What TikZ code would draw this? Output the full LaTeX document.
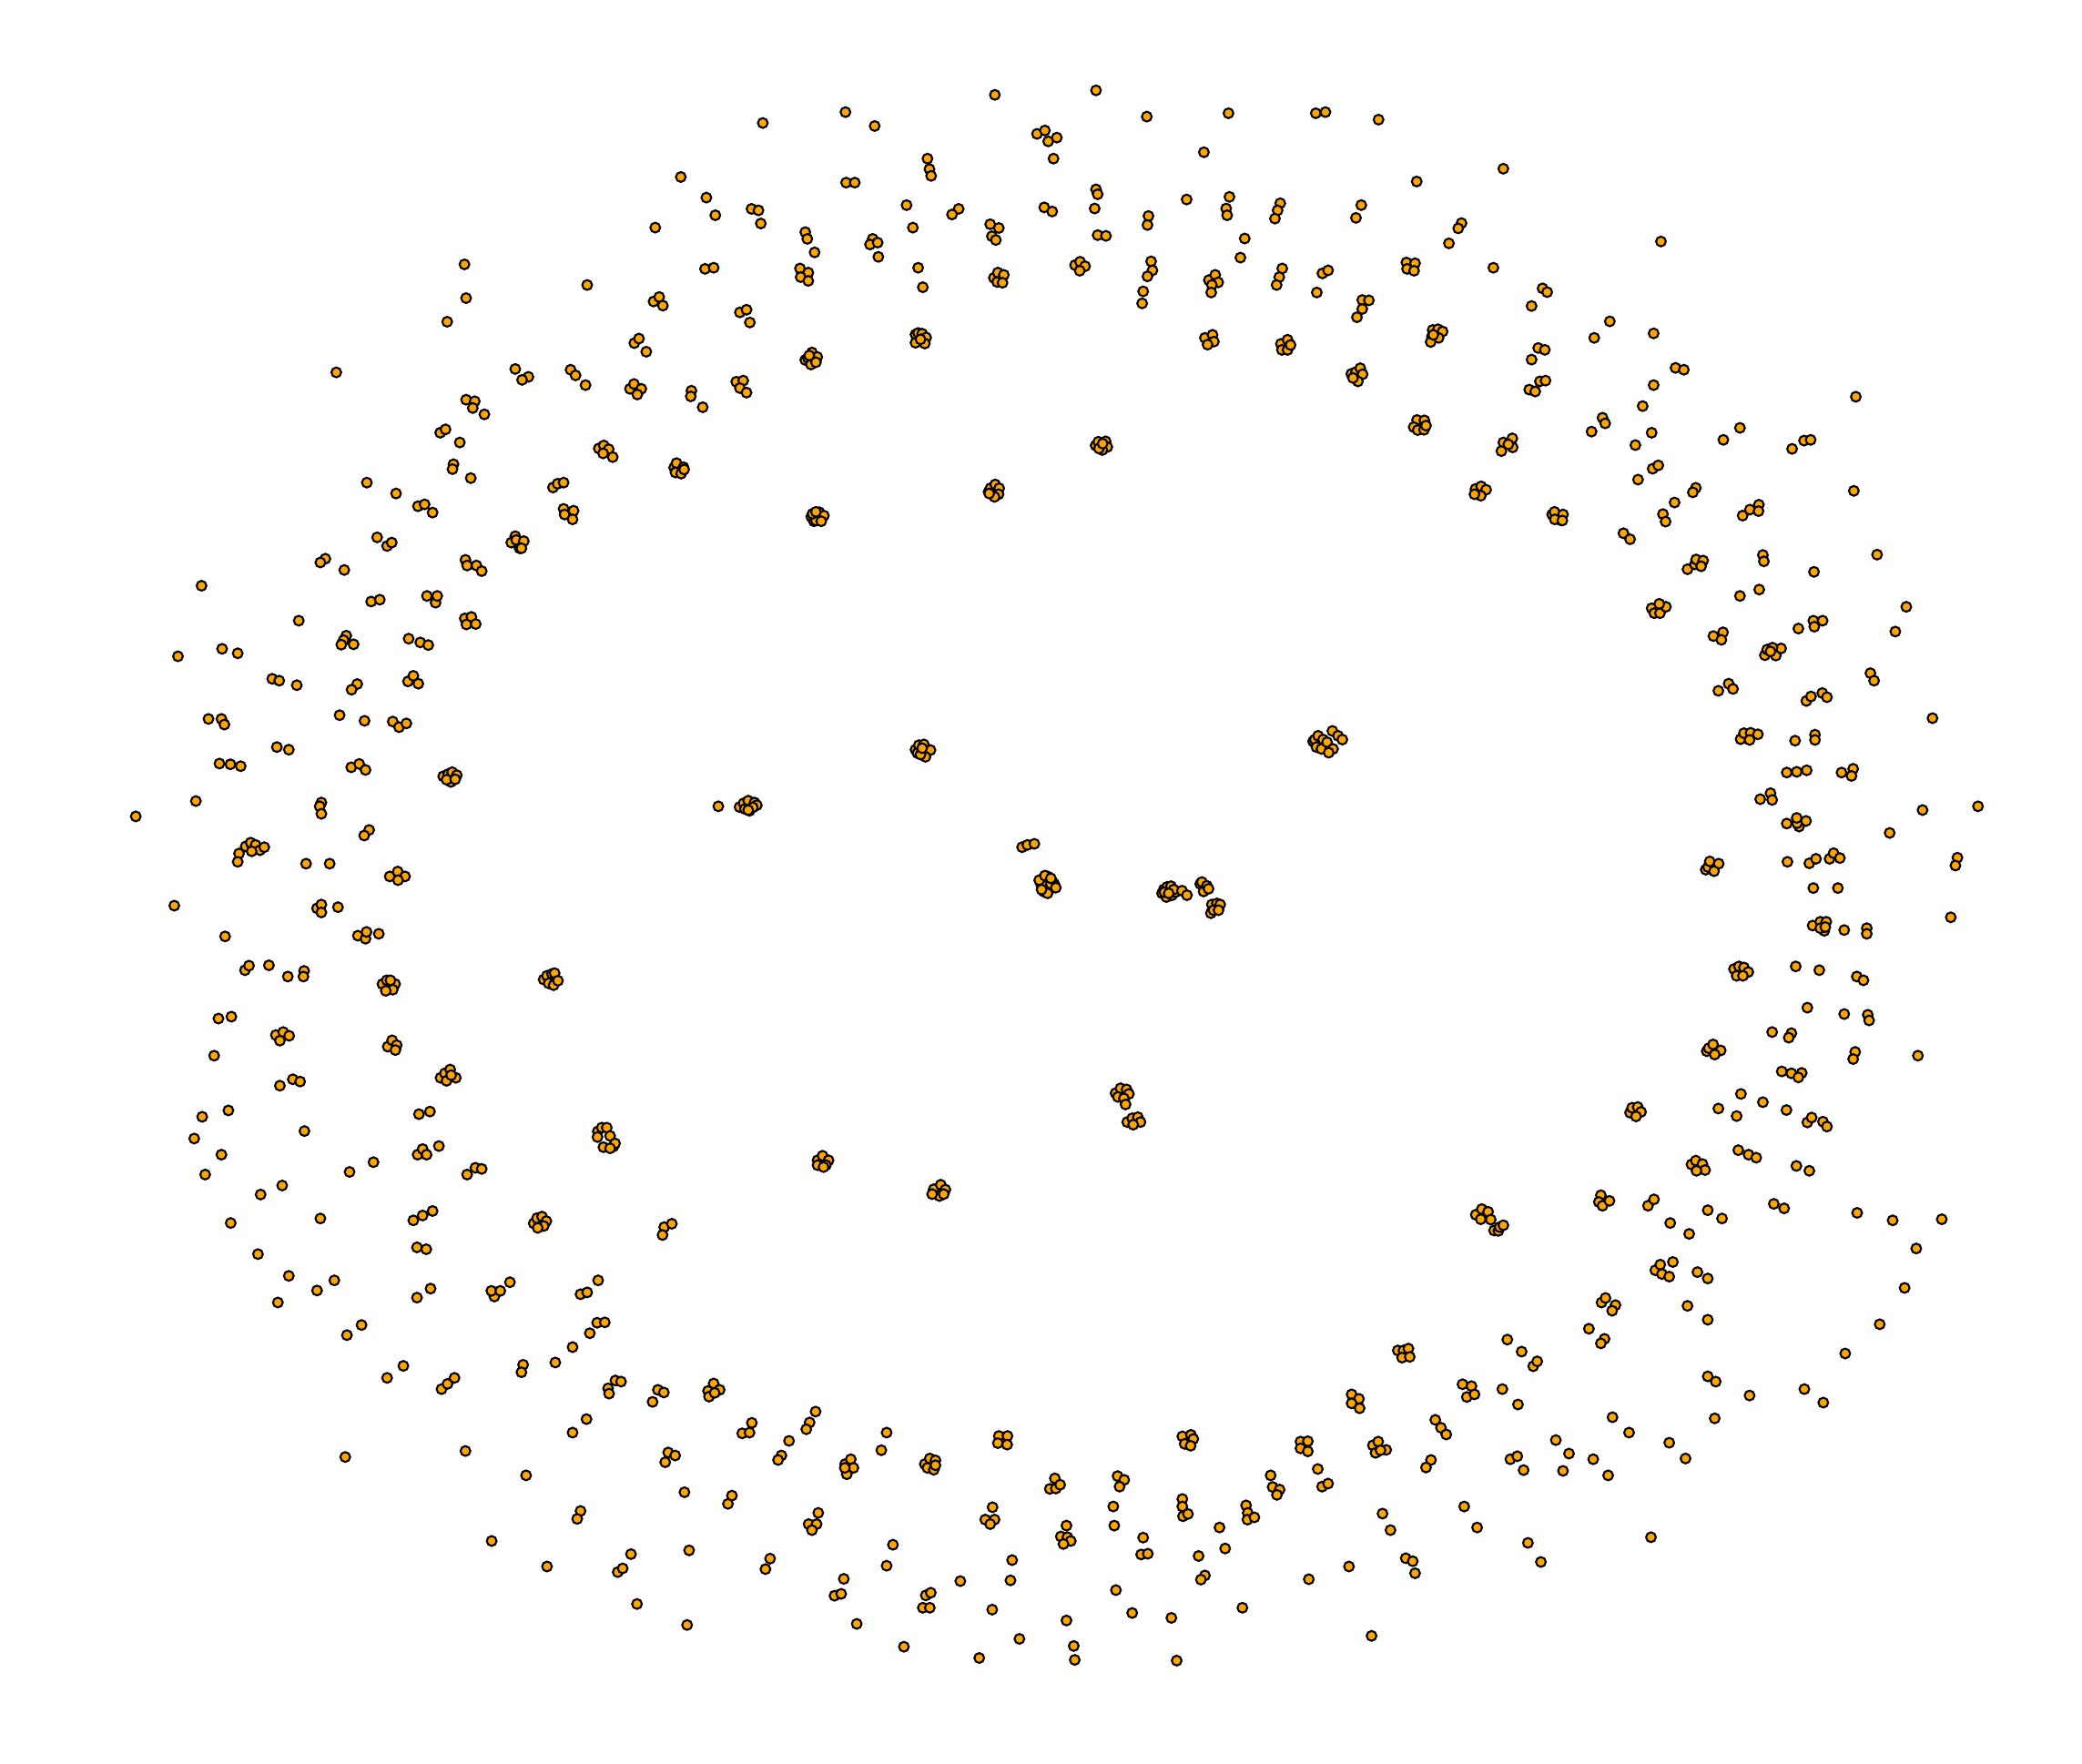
\documentclass[tikz,border=0pt]{standalone}
\definecolor{dotfill}{HTML}{FFA500}
\tikzset{gdot/.style={circle, draw=black, fill=dotfill, line width=0.6pt, inner sep=0pt, minimum size=0.108cm}}
\newcommand{\dottile}[4]{%
\begin{scope}[shift={(#1*0.01,-#2*0.01)}, x=0.0036483cm, y=-0.0041203cm]
\foreach \px/\py [count=\k] in {#4} {\node[gdot] (#3-\k) at (\px,\py) {};}
\end{scope}}
\begin{document}
\begin{tikzpicture}
\fill[white] (0,0) rectangle (22.87,-19.37);
\useasboundingbox (0,0) rectangle (22.87,-19.37);
% tile 1
\dottile{0}{0}{a}{1399/705, 1404/795, 1347/858, 1013/993, 1552/984, 1404/1066, 1430/1070, 1424/1088, 1459/1105, 1326/1154, 1342/1145, 1385/1180, 1366/1238, 1363/1251, 1418/1275, 1105/1287, 1193/1316, 1259/1350, 1279/1345, 1303/1367, 1136/1433, 1166/1456, 1180/1447, 980/1490, 965/1500, 1037/1520, 1402/1493, 1407/1508, 1435/1508, 1451/1523, 1552/1430, 1540/1447, 1555/1440, 1565/1462, 607/1562}
% tile 2
\dottile{572}{0}{b}{730/328, 979/299, 1067/336, 1429/253, 1556/357, 1226/423, 1232/451, 1237/469, 483/472, 981/487, 1007/487, 560/527, 587/574, 696/557, 717/561, 724/596, 406/607, 1163/547, 1182/607, 1320/557, 1300/572, 1415/598, 1441/608, 1420/630, 1432/640, 858/619, 864/637, 886/673, 1061/637, 1053/652, 1076/647, 1078/685, 556/717, 582/714, 201/760, 842/716, 867/727, 844/739, 867/749, 1198/714, 1212/766, 1426/741, 1438/727, 1456/733, 1436/752, 1452/754, 401/804, 418/792, 429/815, 661/833, 681/826, 691/860, 343/915, 357/903, 379/938, 1190/892, 1198/888, 1210/890, 1222/900, 1190/914, 1218/916, 1205/905, 858/960, 866/955, 878/940, 894/952, 875/972, 890/966, 870/948, 151/986, 166/1001, 196/1027, 24/1005, 5/1013, 330/1037, 342/1024, 364/1037, 352/1052, 515/1042, 513/1057, 549/1086, 650/1018, 671/1015, 661/1035, 681/1047, 236/1196, 251/1188, 266/1198, 249/1209, 278/1219, 463/1247, 470/1235, 491/1246, 467/1260, 484/1263, 493/1252, 98/1300, 112/1290, 130/1287, 130/1357, 160/1362, 133/1372, 157/1385, 1410/1312, 1416/1302, 1430/1292, 1442/1302, 1440/1318, 1428/1325, 1412/1316, 876/1378, 884/1390, 890/1388, 900/1366, 914/1375, 906/1390, 880/1370, 890/1365, 10/1443, 3/1462}
% tile 3
\dottile{1144}{0}{c}{166/241, 319/311, 565/302, 828/302, 857/299, 1017/319, 12/348, 22/377, 48/367, 38/423, 491/406, 1393/450, 1132/484, 166/505, 171/518, 162/556, 10/553, 34/564, 439/532, 568/525, 558/556, 561/574, 721/542, 713/561, 705/583, 965/547, 949/581, 1267/595, 1257/609, 1229/649, 171/627, 196/629, 324/576, 321/600, 614/636, 601/687, 1101/700, 1127/702, 1103/717, 1124/722, 1363/714, 103/707, 118/698, 133/710, 117/722, 332/697, 336/721, 321/737, 308/777, 305/809, 506/747, 525/733, 534/753, 515/760, 513/780, 727/716, 718/739, 710/760, 848/729, 865/721, 831/780, 968/800, 988/801, 968/824, 952/846, 1511/769, 1525/779, 1478/816, 494/901, 517/893, 521/911, 502/919, 723/917, 743/906, 726/933, 743/933, 752/920, 1180/880, 1196/878, 1210/884, 1178/897, 1198/901, 1174/912, 1182/893, 1498/928, 1518/933, 1478/959, 1503/1017, 1520/1015, 1471/1039, 1489/1044, 935/997, 949/992, 962/982, 969/998, 955/1017, 940/1008, 1133/1120, 1155/1121, 1123/1139, 1135/1147, 1154/1146, 1160/1135, 1393/1180, 1420/1169, 1421/1193, 1387/1203, 1408/1185, 1309/1304, 1326/1297, 1341/1306, 1325/1322, 1306/1318, 165/1188, 173/1178, 195/1177, 200/1192, 185/1200, 175/1196, 186/1183, 1540/1372, 1560/1375, 1547/1365, 1565/1387, 1548/1385}
% tile 4
\dottile{1716}{0}{d}{300/644, 146/857, 99/901, 278/889, 344/981, 369/986, 278/1027, 245/1083, 124/1114, 132/1129, 91/1151, 272/1154, 223/1187, 488/1173, 538/1141, 695/1197, 731/1175, 751/1173, 887/1058, 275/1250, 292/1241, 231/1279, 405/1301, 396/1313, 341/1340, 881/1309, 5/1372, 3/1388, 306/1371, 314/1391, 187/1422, 207/1438, 546/1375, 568/1359, 595/1346, 594/1363, 380/1518, 402/1505, 406/1492, 427/1495, 421/1510, 607/1480, 610/1497, 761/1525, 951/1479}
% tile 5
\dottile{0}{646}{e}{1118/37, 1144/32, 1286/22, 1312/40, 1317/22, 1400/82, 1420/78, 1405/98, 1433/97, 900/88, 536/183, 669/163, 716/175, 1043/128, 1035/140, 1028/152, 1065/151, 1231/136, 1266/146, 1290/153, 820/243, 841/248, 894/260, 1076/257, 1059/272, 1229/250, 1245/235, 1260/256, 628/350, 667/350, 676/365, 1023/340, 1098/355, 1183/357, 1202/372, 1224/362, 834/425, 870/432, 661/469, 694/471, 725/476, 1058/479, 1082/470, 1101/486, 1335/503, 1350/497, 1362/492, 1376/500, 1358/518, 1345/512, 1371/511, 590/569, 409/610, 968/573, 963/583, 968/603, 1112/646, 1097/661, 740/690, 755/680, 770/686, 783/700, 796/692, 758/703, 720/709, 716/731, 922/736, 993/736, 1174/770, 1198/757, 1220/770, 1199/780, 525/848, 955/855, 968/845, 968/866, 1018/852, 678/930, 1078/928, 1101/936, 1104/918, 1141/923, 738/1020, 750/1008, 810/1007, 867/1037, 916/1022, 914/1037, 1152/1057, 1165/1047, 1190/1057, 1183/1072, 1162/1075, 1176/1047, 658/1149, 697/1144, 831/1193, 853/1185, 871/1195, 843/1208, 1168/1224, 1181/1207, 1195/1220, 1191/1233, 645/1248, 1327/1307, 1340/1295, 1356/1285, 1373/1307, 1345/1315, 1359/1300, 843/1328, 882/1311, 904/1317, 609/1411, 688/1394, 1262/1404, 1295/1397, 917/1449, 585/1469, 667/1512, 1258/1512, 1273/1497, 1285/1512, 1322/1489, 1053/1558, 1125/1532, 1407/1565, 1432/1547, 1451/1550, 618/1565}
% tile 6
\dottile{572}{646}{f}{1190/432, 1200/420, 1215/418, 1235/433, 1220/451, 1196/441, 1205/445, 1210/428, 596/583, 660/585, 672/575, 686/568, 705/573, 712/580, 690/595, 700/586, 676/590, 686/593, 1511/692, 1527/686, 1548/683, 70/1045, 80/1035, 95/1030, 103/1028, 85/1055, 100/1060, 113/1048, 233/1450, 245/1440, 260/1440, 232/1465, 270/1462, 280/1490, 285/1482, 250/1492, 270/1495, 895/1527, 910/1515, 928/1527, 895/1540, 920/1540, 913/1545}
% tile 7
\dottile{1144}{646}{g}{0/790, 5/800, 20/770, 10/780, 8/810, 25/805, 15/795, 40/790, 35/785, 30/790, -5/780, 12/768, 30/775, 45/800, 20/815, 2/805, 370/805, 380/798, 392/796, 365/815, 378/825, 395/820, 405/812, 400/805, 372/812, 385/815, 425/808, 440/820, 480/790, 485/785, 490/810, 500/795, 505/803, 515/845, 530/842, 540/845, 512/868, 520/860, 535/860, 820/410, 825/405, 835/395, 830/425, 845/430, 850/405, 862/412, 880/430, 867/440, 878/382, 895/395, 908/405, 225/1348, 240/1335, 258/1338, 265/1350, 232/1358, 250/1362, 255/1378, 260/1425, 275/1415, 292/1412, 300/1425, 278/1432}
% tile 8
\dottile{1716}{646}{h}{538/22, 596/5, 272/55, 280/68, 297/68, 315/51, 295/43, 1039/51, 458/129, 487/119, 482/139, 714/109, 759/88, 787/88, 762/104, 1006/117, 613/180, 620/165, 646/181, 662/162, 636/160, 630/170, 931/228, 942/248, 473/275, 504/256, 517/270, 738/302, 752/290, 786/281, 800/292, 1118/348, 540/404, 550/388, 570/387, 592/391, 567/406, 704/408, 764/392, 764/406, 679/493, 709/491, 739/487, 844/493, 879/483, 874/502, 599/564, 630/548, 635/566, 1088/593, 1255/583, 989/654, 679/629, 716/637, 710/628, 737/622, 709/614, 435/752, 442/745, 447/730, 474/736, 460/756, 681/731, 747/735, 767/723, 808/723, 820/708, 839/721, 1193/720, 1187/741, 759/801, 833/801, 1173/879, 757/901, 780/891, 792/915, 780/908, 798/891, 795/905, 852/913, 920/908, 920/923, 520/1017, 535/1010, 550/1013, 563/1025, 528/1035, 547/1035, 706/1010, 777/1020, 890/1037, 910/1047, 741/1120, 852/1137, 923/1139, 927/1154, 635/1185, 693/1188, 685/1200, 438/1236, 444/1228, 457/1218, 480/1234, 462/1245, 885/1238, 879/1257, 1074/1248, 664/1290, 693/1295, 724/1294, 714/1306, 207/1400, 213/1387, 230/1385, 240/1398, 225/1410, 541/1350, 607/1372, 678/1393, 473/1389, 528/1409, 741/1426, 754/1413, 788/1424, 800/1437, 533/1500, 564/1512, 587/1520, 392/1538, 405/1528, 425/1537, 433/1553, 407/1555, 708/1542, 747/1555}
% tile 9
\dottile{0}{1292}{i}{785/51, 850/27, 695/127, 965/115, 1245/120, 1273/107, 1303/95, 777/210, 1256/192, 1284/197, 870/268, 1007/280, 955/307, 837/339, 1256/326, 1297/302, 1489/323, 1480/308, 1507/308, 1536/285, 1045/426, 1089/399, 1166/540, 1215/508, 1330/570, 1348/556, 1369/540, 1040/751, 1402/735, 1481/975}
% tile 10
\dottile{572}{1292}{j}{40/128, 50/114, 65/110, 78/122, 70/135, 52/140, 433/138, 456/129, 428/159, 1245/37, 1266/25, 1280/38, 1262/55, 1240/50, 1275/50, 234/280, 181/317, 201/312, 231/393, 254/392, 209/421, 157/458, 105/499, 8/505, 3/525, 264/568, 286/547, 303/550, 267/582, 414/572, 432/579, 398/604, 565/575, 582/555, 600/572, 568/590, 585/580, 199/650, 157/686, 697/660, 668/688, 690/686, 889/630, 871/659, 861/677, 809/708, 786/747, 776/759, 1103/686, 1087/733, 445/739, 466/747, 436/765, 978/770, 995/757, 1003/780, 983/797, 977/780, 1218/770, 1233/755, 1250/760, 1226/780, 1245/785, 1250/773, 1441/695, 1467/695, 1438/714, 1466/718, 17/800, 494/845, 637/854, 625/876, 181/895, 171/916, 897/900, 868/930, 892/930, 878/946, 1422/885, 1400/918, 1428/918, 1415/930, 80/1043, 333/1010, 293/1058, 308/1048, 508/1000, 752/1022, 738/1050, 1122/985, 1103/1041, 1481/1026, 1476/1080, 974/1076, 946/1121, 966/1116, 1325/1082, 1221/1120, 1236/1113, 1212/1153, 1233/1153, 1421/1158, 351/1143, 502/1199, 1013/1196, 1155/1257, 1382/1287, 1503/1236}
% tile 11
\dottile{1144}{1292}{k}{1310/105, 1328/90, 1347/97, 1325/117, 1355/118, 1365/147, 1378/148, 1382/138, 1393/133, 1405/438, 1448/470, 1483/509, 1495/496, 1075/467, 1092/467, 1107/462, 1088/486, 1111/484, 1270/557, 1297/562, 1283/591, 1306/584, 1390/570, 1437/611, 936/584, 958/596, 936/608, 960/621, 1188/652, 1205/673, 1221/691, 1551/706, 426/696, 452/692, 459/703, 433/716, 451/721, 782/710, 804/709, 782/728, 804/736, 1000/720, 1016/710, 1040/732, 1008/740, 1023/733, 1175/759, 1160/779, 1414/757, 1435/749, 1454/786, 42/808, 27/836, 45/835, 58/825, 231/802, 251/812, 237/830, 692/800, 698/831, 719/838, 711/852, 834/783, 847/830, 865/822, 218/883, 221/934, 426/863, 426/883, 428/909, 443/903, 618/880, 623/900, 622/918, 643/912, 1029/902, 1053/946, 1275/883, 1314/939, 77/934, 60/963, 80/965, 90/975, 68/983, 308/966, 302/1011, 322/1009, 538/939, 555/995, 475/1015, 494/1067, 482/1078, 1099/1021, 1120/1029, 1127/1061, 928/1043, 807/1077, 1467/980, 1506/1031, 226/1106, 275/1167, 393/1180, 607/1153, 77/1187, 99/1255, 102/1292, 409/1294, 996/1228}
% tile 12
\dottile{1716}{1292}{l}{119/53, 113/71, 124/81, 145/68, 261/81, 279/64, 441/93, 484/115, 640/76, 671/88, 891/100, 998/120, 1146/117, 1069/195, 328/127, 385/156, 283/253, 298/238, 303/263, 325/270, 336/231, 410/258, 441/275, 1034/300, 121/339, 133/327, 163/346, 153/361, 380/348, 441/385, 959/397, 83/409, 130/436, 119/448, 855/475, 441/536, 465/550, 567/587, 732/570, 789/606, 154/645, 204/686, 462/648, 325/713, 374/755, 5/788, 23/742, 96/757, 141/800, 270/965}
\end{tikzpicture}
\end{document}
